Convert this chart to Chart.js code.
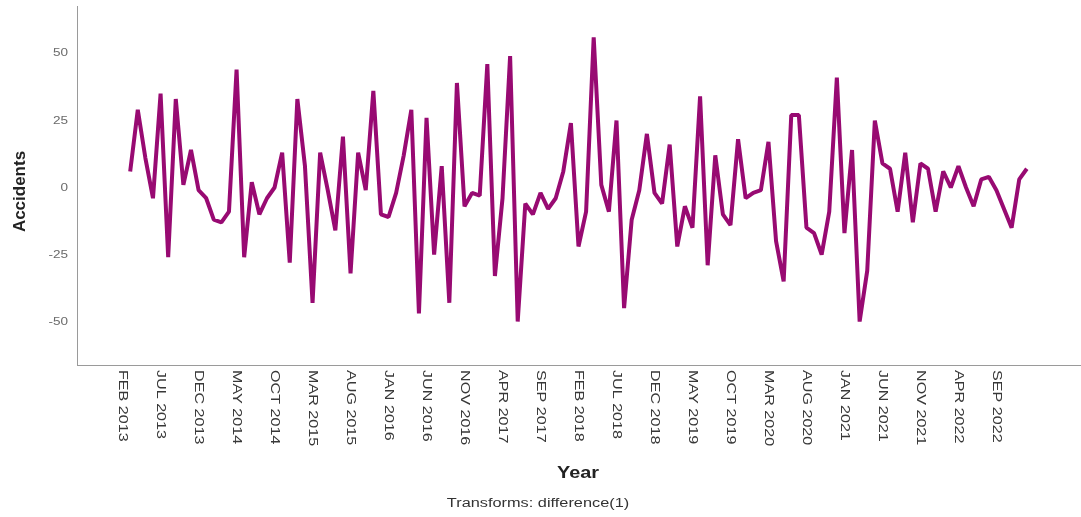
<!DOCTYPE html>
<html>
<head>
<meta charset="utf-8">
<title>Accidents, transformed by first difference</title>
<script src="https://cdn.jsdelivr.net/npm/chart.js@4.4.1/dist/chart.umd.min.js"></script>
<style>
  html, body { margin: 0; padding: 0; background: #ffffff; }
  #wrap { position: relative; width: 1081px; height: 517px; }
</style>
</head>
<body>
<div id="wrap"><canvas id="chart"></canvas></div>
<script>
// Monthly accident counts after first differencing, FEB 2013 .. DEC 2022
const accidentsDiff = [
  6, 29, 11, -4, 35, -26, 33, 1, 14, -1, -4, -12, -13, -9, 44, -26, 2, -10, -4, 0,
  13, -28, 33, 8, -43, 13, -1, -16, 19, -32, 13, -1, 36, -10, -11, -2, 12, 29, -47, 26,
  -25, 8, -43, 39, -7, -2, -3, 46, -33, -4, 49, -50, -6, -10, -2, -8, -4, 6, 24, -22,
  -9, 56, 1, -9, 25, -45, -12, -1, 20, -2, -6, 16, -22, -7, -15, 34, -29, 12, -10, -14,
  18, -4, -2, -1, 17, -20, -35, 27, 27, -15, -17, -25, -9, 41, -17, 14, -50, -31, 25, 9,
  7, -9, 13, -13, 9, 7, -9, 6, 0, 8, 0, -7, 3, 4, -1, -8, -15, 3, 7
];

// Axis labels along the time axis, one every five months starting at FEB 2013
const xTickLabels = [
  'FEB 2013', 'JUL 2013', 'DEC 2013', 'MAY 2014', 'OCT 2014', 'MAR 2015',
  'AUG 2015', 'JAN 2016', 'JUN 2016', 'NOV 2016', 'APR 2017', 'SEP 2017',
  'FEB 2018', 'JUL 2018', 'DEC 2018', 'MAY 2019', 'OCT 2019', 'MAR 2020',
  'AUG 2020', 'JAN 2021', 'JUN 2021', 'NOV 2021', 'APR 2022', 'SEP 2022'
];
const xTickStep = 5;

const yTickValues = [-50, -25, 0, 25, 50];

const xTitle = 'Year';
const yTitle = 'Accidents';
const footnote = 'Transforms: difference(1)';

const lineColor = '#980a72';
const axisColor = '#9a9a9a';
const FONT = '"Liberation Sans", Arial, Helvetica, sans-serif';

const points = accidentsDiff.map((v, i) => ({ x: i, y: v }));

// Draws a string with optional rotation and stretch along its reading direction
function drawText(ctx, text, x, y, opts) {
  ctx.save();
  ctx.translate(x, y);
  if (opts.rotate) ctx.rotate(opts.rotate);
  ctx.scale(opts.stretch || 1, 1);
  ctx.font = opts.font;
  ctx.fillStyle = opts.color;
  ctx.textAlign = opts.align || 'left';
  ctx.textBaseline = opts.baseline || 'alphabetic';
  ctx.fillText(text, 0, 0);
  ctx.restore();
}

const labelsPlugin = {
  id: 'axisText',
  afterDraw(chart) {
    const ctx = chart.ctx;
    const xs = chart.scales.x;
    const ys = chart.scales.y;
    const area = chart.chartArea;

    // value labels on the vertical axis
    yTickValues.forEach(v => {
      drawText(ctx, String(v), area.left - 9, ys.getPixelForValue(v), {
        font: '11px ' + FONT, color: '#6a6a6a', align: 'right',
        baseline: 'middle', stretch: 1.23
      });
    });

    // month labels, reading downward below the time axis
    xTickLabels.forEach((lab, k) => {
      const px = xs.getPixelForValue(k * xTickStep);
      drawText(ctx, lab, px - 11, area.bottom + 5, {
        font: '12.5px ' + FONT, color: '#383838', align: 'left',
        baseline: 'alphabetic', rotate: Math.PI / 2, stretch: 1.29
      });
    });

    // axis titles and footnote
    drawText(ctx, yTitle, 25, (area.top + area.bottom) / 2 + 6, {
      font: 'bold 17px ' + FONT, color: '#222222', align: 'center',
      rotate: -Math.PI / 2
    });
    drawText(ctx, xTitle, 578, 478, {
      font: 'bold 16px ' + FONT, color: '#222222', align: 'center', stretch: 1.24
    });
    drawText(ctx, footnote, 538, 507, {
      font: '12px ' + FONT, color: '#333333', align: 'center', stretch: 1.36
    });
  }
};

new Chart(document.getElementById('chart'), {
  type: 'line',
  data: {
    datasets: [{
      data: points,
      borderColor: lineColor,
      borderWidth: 4,
      borderJoinStyle: 'bevel',
      borderCapStyle: 'butt',
      tension: 0,
      pointRadius: 0,
      pointHoverRadius: 0,
      fill: false
    }]
  },
  options: {
    responsive: true,
    maintainAspectRatio: false,
    animation: false,
    events: [],
    layout: { padding: { top: 6, right: 1, left: 0, bottom: 0 } },
    plugins: { legend: { display: false }, tooltip: { enabled: false } },
    scales: {
      x: {
        type: 'linear',
        min: -7,
        max: 125,
        grid: { display: true, color: 'rgba(0,0,0,0)', drawTicks: false },
        border: { display: true, color: axisColor, width: 1 },
        ticks: { display: false },
        afterFit(scale) { scale.height = 152; }
      },
      y: {
        type: 'linear',
        min: -66.2,
        max: 67.7,
        grid: { display: true, color: 'rgba(0,0,0,0)', drawTicks: false },
        border: { display: true, color: axisColor, width: 1 },
        ticks: { display: false, stepSize: 25, includeBounds: false },
        afterFit(scale) { scale.width = 77; }
      }
    }
  },
  plugins: [labelsPlugin]
});
</script>
</body>
</html>
